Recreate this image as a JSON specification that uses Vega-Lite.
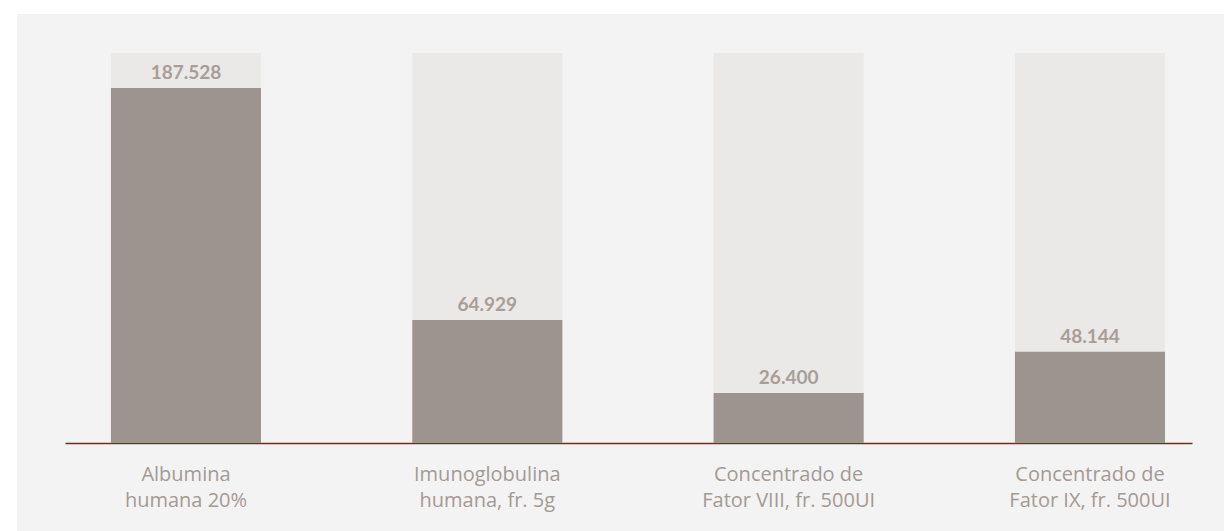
{
  "$schema": "https://vega.github.io/schema/vega-lite/v6.json",
  "width": 1207,
  "height": 517,
  "autosize": {"type": "none"},
  "padding": {"left": 17, "top": 14, "right": 0, "bottom": 0},
  "background": "white",
  "view": {"fill": "#f3f3f3", "stroke": null},
  "config": {
    "locale": {"number": {"decimal": ",", "thousands": ".", "grouping": [3], "currency": ["R$", ""]}}
  },
  "data": {
    "values": [
      {"produto": "Albumina|humana 20%", "quantidade": 187528, "maximo": 206000},
      {"produto": "Imunoglobulina|humana, fr. 5g", "quantidade": 64929, "maximo": 206000},
      {"produto": "Concentrado de|Fator VIII, fr. 500UI", "quantidade": 26400, "maximo": 206000},
      {"produto": "Concentrado de|Fator IX, fr. 500UI", "quantidade": 48144, "maximo": 206000}
    ]
  },
  "encoding": {
    "x": {
      "field": "produto",
      "type": "nominal",
      "sort": null,
      "scale": {"range": [48, 1175], "paddingInner": 0.502, "paddingOuter": 0.121, "align": 0.63},
      "axis": {
        "orient": "bottom",
        "offset": -88,
        "title": null,
        "labelAngle": 0,
        "ticks": false,
        "grid": false,
        "domainColor": "#8b2222",
        "domainWidth": 1.6,
        "labelPadding": 21,
        "labelExpr": "split(datum.label, '|')",
        "labelFont": "Open Sans",
        "labelFontSize": 20,
        "labelLineHeight": 26,
        "labelColor": "#a49a94"
      }
    }
  },
  "layer": [
    {
      "mark": {"type": "bar", "color": "#ebe8e8"},
      "encoding": {
        "y": {"field": "maximo", "type": "quantitative", "scale": {"domain": [-46482, 226600], "nice": false, "zero": false}, "axis": null}
      }
    },
    {
      "mark": {"type": "bar", "color": "#9e948f"},
      "encoding": {
        "y": {"field": "quantidade", "type": "quantitative"}
      }
    },
    {
      "mark": {"type": "text", "font": "Lato", "fontWeight": "bold", "fontSize": 19, "color": "#a89e98", "baseline": "alphabetic", "dy": -9},
      "encoding": {
        "y": {"field": "quantidade", "type": "quantitative"},
        "text": {"field": "quantidade", "type": "quantitative", "format": ",d"}
      }
    }
  ]
}
